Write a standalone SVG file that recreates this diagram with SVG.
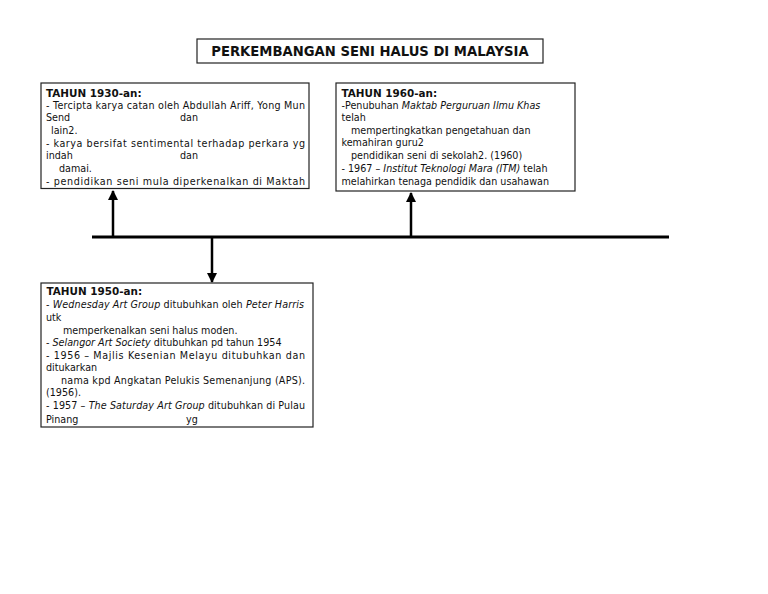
<svg xmlns="http://www.w3.org/2000/svg" width="768" height="594" viewBox="0 0 768 594">
<style>
.box{fill:#fff;stroke:#222;stroke-width:1.2}
.t{font-family:"DejaVu Sans",sans-serif;font-size:9.6px;fill:#111}
.h{font-family:"DejaVu Sans",sans-serif;font-size:10.4px;font-weight:bold;fill:#111}
.ttl{font-family:"DejaVu Sans",sans-serif;font-size:13.2px;font-weight:bold;fill:#111}
.i{font-style:italic}
.ln{stroke:#000;stroke-width:3;fill:none}
.ar{stroke:#000;stroke-width:2.5;fill:none}
</style>
<defs>
<marker id="ah" viewBox="0 0 10 10" refX="9" refY="5" markerWidth="4" markerHeight="4" markerUnits="strokeWidth" orient="auto">
<path d="M0,0 L10,5 L0,10 Z" fill="#000"/>
</marker>
<clipPath id="c1"><rect x="41" y="83" width="268" height="105.5"/></clipPath>
<clipPath id="c2"><rect x="336" y="83" width="239" height="108"/></clipPath>
<clipPath id="c3"><rect x="41" y="283" width="272" height="144"/></clipPath>
</defs>
<rect width="768" height="594" fill="#fff"/>

<g id="title">
<rect class="box" x="197" y="39" width="346" height="24"/>
<text class="ttl" x="370" y="56" text-anchor="middle">PERKEMBANGAN SENI HALUS DI MALAYSIA</text>
</g>

<g id="connectors">
<line class="ln" x1="92" y1="237" x2="669" y2="237"/>
<line class="ar" x1="113" y1="237" x2="113" y2="191" marker-end="url(#ah)"/>
<line class="ar" x1="411" y1="237" x2="411" y2="193" marker-end="url(#ah)"/>
<line class="ar" x1="212" y1="237" x2="212" y2="282" marker-end="url(#ah)"/>
</g>

<g id="node1930">
<rect class="box" x="41" y="83" width="268" height="105.5"/>
<g clip-path="url(#c1)">
<text class="h" x="46" y="96.5">TAHUN 1930-an:</text>
<text class="t" x="46" y="109" textLength="259" lengthAdjust="spacing">- Tercipta karya catan oleh Abdullah Ariff, Yong Mun</text>
<text class="t" x="46" y="121">Send</text>
<text class="t" x="180" y="121">dan</text>
<text class="t" x="51" y="133.5">lain2.</text>
<text class="t" x="46" y="146.5" textLength="259" lengthAdjust="spacing">- karya bersifat sentimental terhadap perkara yg</text>
<text class="t" x="46" y="158.5">indah</text>
<text class="t" x="180" y="158.5">dan</text>
<text class="t" x="59" y="171.5">damai.</text>
<text class="t" x="46" y="185" textLength="259" lengthAdjust="spacing">- pendidikan seni mula diperkenalkan di Maktah</text>
</g>
</g>

<g id="node1960">
<rect class="box" x="336" y="83" width="239" height="108"/>
<g clip-path="url(#c2)">
<text class="h" x="341.5" y="96.5">TAHUN 1960-an:</text>
<text class="t" x="341.5" y="109">-Penubuhan <tspan class="i">Maktab Perguruan Ilmu Khas</tspan></text>
<text class="t" x="341.5" y="121">telah</text>
<text class="t" x="351" y="134">mempertingkatkan pengetahuan dan</text>
<text class="t" x="341.5" y="146">kemahiran guru2</text>
<text class="t" x="351" y="159">pendidikan seni di sekolah2. (1960)</text>
<text class="t" x="341.5" y="171.5">- 1967 – <tspan class="i">Institut Teknologi Mara (ITM)</tspan> telah</text>
<text class="t" x="341.5" y="184.5">melahirkan tenaga pendidik dan usahawan</text>
</g>
</g>

<g id="node1950">
<rect class="box" x="41" y="283" width="272" height="144"/>
<g clip-path="url(#c3)">
<text class="h" x="46.5" y="295">TAHUN 1950-an:</text>
<text class="t" x="46" y="308" textLength="258" lengthAdjust="spacing">- <tspan class="i">Wednesday Art Group</tspan> ditubuhkan oleh <tspan class="i">Peter Harris</tspan></text>
<text class="t" x="46" y="320.5">utk</text>
<text class="t" x="63" y="333.5">memperkenalkan seni halus moden.</text>
<text class="t" x="46" y="346">- <tspan class="i">Selangor Art Society</tspan> ditubuhkan pd tahun 1954</text>
<text class="t" x="46" y="358.5" textLength="259" lengthAdjust="spacing">- 1956 – Majlis Kesenian Melayu ditubuhkan dan</text>
<text class="t" x="46" y="371">ditukarkan</text>
<text class="t" x="61" y="383.5" textLength="244" lengthAdjust="spacing">nama kpd Angkatan Pelukis Semenanjung (APS).</text>
<text class="t" x="46" y="396">(1956).</text>
<text class="t" x="46" y="408.5" textLength="259" lengthAdjust="spacing">- 1957 – <tspan class="i">The Saturday Art Group</tspan> ditubuhkan di Pulau</text>
<text class="t" x="46" y="423">Pinang</text>
<text class="t" x="186" y="423">yg</text>
</g>
</g>
</svg>
